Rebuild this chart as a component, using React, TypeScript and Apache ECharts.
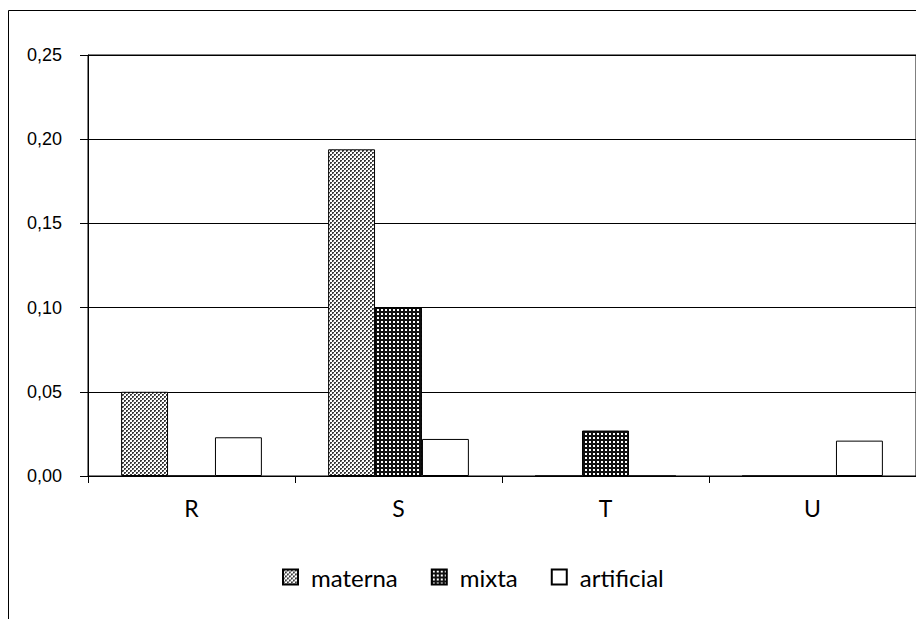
import React, { useEffect, useRef } from "react";
import * as echarts from "echarts";

const categories = ["R", "S", "T", "U"];
const seriesNames = ["materna", "mixta", "artificial"];
const materna = [0.05, 0.194, 0, 0];
const mixta = [0, 0.1, 0.027, 0];
const artificial = [0.023, 0.022, 0, 0.021];
const yTicks = { min: 0, max: 0.25, interval: 0.05 };

function makePattern(kind: string): HTMLCanvasElement {
  const c = document.createElement("canvas");
  const ctx = c.getContext("2d")!;
  if (kind === "materna") {
    c.width = 4;
    c.height = 4;
    ctx.fillStyle = "#ffffff";
    ctx.fillRect(0, 0, 4, 4);
    ctx.fillStyle = "#3a3a3a";
    ctx.fillRect(0, 0, 2, 2);
    ctx.fillRect(2, 2, 2, 2);
    ctx.fillStyle = "#9a9a9a";
    ctx.fillRect(1, 1, 1, 1);
    ctx.fillRect(3, 3, 1, 1);
  } else {
    c.width = 4;
    c.height = 4;
    ctx.fillStyle = "#111111";
    ctx.fillRect(0, 0, 4, 4);
    ctx.fillStyle = "#ffffff";
    ctx.fillRect(1, 1, 2, 2);
  }
  return c;
}

export default function App() {
  const ref = useRef<HTMLDivElement>(null);
  useEffect(() => {
    if (!ref.current) return;
    const chart = echarts.init(ref.current, undefined, { renderer: "svg" });
    const pMaterna = { image: makePattern("materna"), repeat: "repeat" };
    const pMixta = { image: makePattern("mixta"), repeat: "repeat" };
    const fills: any[] = [pMaterna, pMixta, "#ffffff"];
    const values = [materna, mixta, artificial];
    chart.setOption({
      animation: false,
      backgroundColor: "#ffffff",
      grid: {
        left: 80,
        right: 8,
        top: 47,
        bottom: 143,
        show: true,
        borderColor: "#000",
        borderWidth: 1,
        backgroundColor: "transparent",
      },
      graphic: [
        {
          type: "rect",
          silent: true,
          shape: { x: 0.5, y: 2.5, width: 1200, height: 1200 },
          style: { fill: "none", stroke: "#000", lineWidth: 1 },
        },
      ],
      legend: {
        top: 552,
        left: 269,
        itemWidth: 15,
        itemHeight: 15,
        itemGap: 33,
        icon: "rect",
        data: seriesNames,
        formatter: (name: string) => `{t|${name}}`,
        textStyle: {
          fontFamily: "Lato",
          fontSize: 24,
          color: "#000",
          rich: { t: { fontFamily: "Lato", fontSize: 24, color: "#000", padding: [0, 0, 0, 8] } },
        },
      },
      xAxis: {
        type: "category",
        data: categories,
        axisLine: { lineStyle: { color: "#000", width: 1 } },
        axisTick: { show: true, length: 7, alignWithLabel: false, lineStyle: { color: "#000" } },
        axisLabel: { fontFamily: "Lato", fontSize: 23, color: "#000", margin: 20 },
        splitLine: { show: false },
      },
      yAxis: {
        type: "value",
        min: yTicks.min,
        max: yTicks.max,
        interval: yTicks.interval,
        axisLine: { show: true, lineStyle: { color: "#000", width: 1 } },
        axisTick: { show: true, length: 8, lineStyle: { color: "#000" } },
        axisLabel: {
          fontFamily: "Liberation Sans",
          fontSize: 18,
          color: "#000",
          margin: 26,
          formatter: (v: number) => v.toFixed(2).replace(".", ","),
        },
        splitLine: { show: true, lineStyle: { color: "#000", width: 1 } },
      },
      series: seriesNames.map((name, i) => ({
        name,
        type: "bar",
        data: values[i],
        barGap: "0%",
        barCategoryGap: "32%",
        itemStyle: { color: fills[i], borderColor: "#000", borderWidth: 1 },
      })),
    });
    return () => chart.dispose();
  }, []);
  return <div ref={ref} style={{ width: 916, height: 611 }} />;
}
